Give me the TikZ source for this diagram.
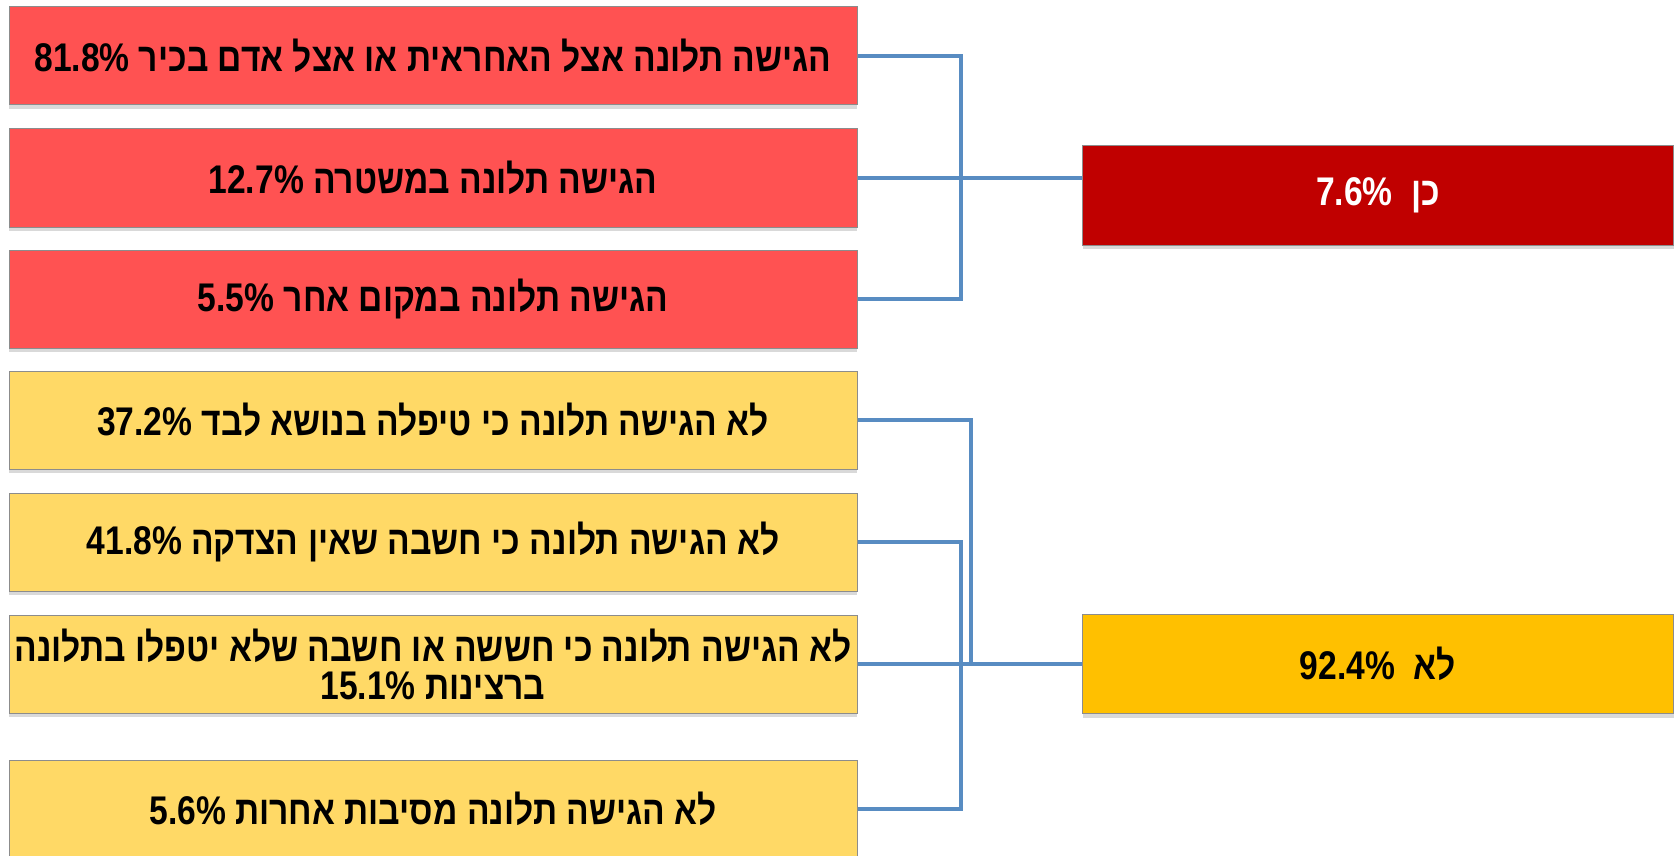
\documentclass[tikz,border=0pt]{standalone}
\usepackage{fontspec}
\usetikzlibrary{shadows}
\TeXXeTstate=1
\newfontfamily\hebfont[Script=Hebrew,FakeStretch=0.84]{Liberation Sans}
\definecolor{redlight}{RGB}{255,82,82}
\definecolor{reddark}{RGB}{192,0,0}
\definecolor{yellight}{RGB}{255,217,102}
\definecolor{yeldark}{RGB}{255,192,0}
\definecolor{linkblue}{RGB}{88,140,194}
\tikzset{
  box/.style={rectangle,draw=black!45,line width=.5pt,inner sep=0pt,align=center,
    font=\hebfont\bfseries\fontsize{20}{19}\selectfont,
    drop shadow={opacity=.3,shadow xshift=0pt,shadow yshift=-2pt}},
  answer/.style={box,minimum width=424pt,minimum height=49pt},
  result/.style={box,minimum width=295.5pt,minimum height=49.5pt},
  link/.style={draw=linkblue,line width=2pt}
}
\begin{document}
\begin{tikzpicture}[x=.5pt,y=-.5pt]
\useasboundingbox (0,0) rectangle (1680,856);
% complained
\node[answer,fill=redlight] (R1) at (433,56) {\beginR הגישה תלונה אצל האחראית או אצל אדם בכיר \beginL81.8\%\endL\endR};
\node[answer,fill=redlight] (R2) at (433,178) {\beginR הגישה תלונה במשטרה \beginL12.7\%\endL\endR};
\node[answer,fill=redlight] (R3) at (433,299) {\beginR הגישה תלונה במקום אחר \beginL5.5\%\endL\endR};
% did not complain
\node[answer,fill=yellight] (Y1) at (433,420) {\beginR לא הגישה תלונה כי טיפלה בנושא לבד \beginL37.2\%\endL\endR};
\node[answer,fill=yellight] (Y2) at (433,542) {\beginR לא הגישה תלונה כי חשבה שאין הצדקה \beginL41.8\%\endL\endR};
\node[answer,fill=yellight] (Y3) at (433,664) {\beginR לא הגישה תלונה כי חששה או חשבה שלא יטפלו בתלונה\endR\\\beginR ברצינות \beginL15.1\%\endL\endR};
\node[answer,fill=yellight] (Y4) at (433,809) {\beginR לא הגישה תלונה מסיבות אחרות \beginL5.6\%\endL\endR};
% totals
\node[result,fill=reddark,text=white,minimum height=50pt] (yes) at (1378,195) {\beginR כן\ \ \beginL7.6\%\endL\endR};
\node[result,fill=yeldark] (no) at (1378,664) {\beginR לא\ \ \beginL92.4\%\endL\endR};
\coordinate (busA) at (961,0);
\coordinate (busB) at (971,0);
\draw[link] (R1.east) -- (R1.east -| busA) -- (R3.east -| busA) -- (R3.east);
\draw[link] (R2.east) -- (yes.west |- R2.east);
\draw[link] (Y1.east) -- (Y1.east -| busB) -- (Y3.east -| busB);
\draw[link] (Y2.east) -- (Y2.east -| busA) -- (Y4.east -| busA) -- (Y4.east);
\draw[link] (Y3.east) -- (no.west);
\end{tikzpicture}
\end{document}
